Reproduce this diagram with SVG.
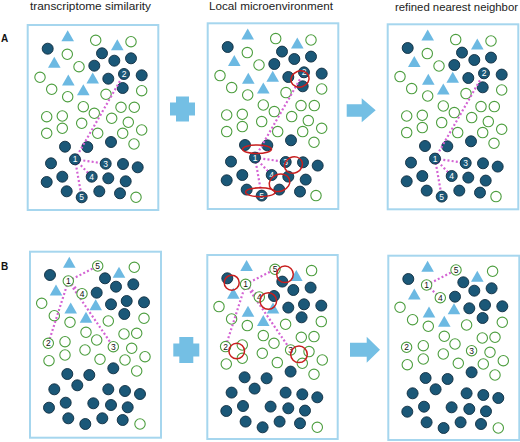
<svg xmlns="http://www.w3.org/2000/svg" width="520" height="442" viewBox="0 0 520 442">
<style>
.box{fill:#fff;stroke:#a6d6ee;stroke-width:2}
.ttl{font-family:"Liberation Sans",Arial,sans-serif;font-size:11px;fill:#222}
.lbl{font-family:"Liberation Sans",Arial,sans-serif;font-size:10px;font-weight:bold;fill:#111}
.dot{fill:none;stroke:#d464d4;stroke-width:2.2;stroke-dasharray:2 2.2}
.nw{font-family:"Liberation Sans",Arial,sans-serif;font-size:8.5px;fill:#fff;text-anchor:middle}
.nb{font-family:"Liberation Sans",Arial,sans-serif;font-size:8.5px;fill:#111;text-anchor:middle}
.red{fill:none;stroke:#c81e1e;stroke-width:1.5}
.sym{fill:#74bfe4}
</style>
<defs>
<path id="tri" d="M0,-6.5 L6.3,4.5 L-6.3,4.5Z" fill="#6cb9e2"/>
<circle id="dk" r="5.5" fill="#1b5878" stroke="#0e2c3f" stroke-width="0.9"/>
<circle id="gr" r="5.2" fill="#fff" stroke="#4d9e3f" stroke-width="1.1"/>
<g id="A-base">
<use href="#tri" x="67.7" y="36.7"/><use href="#tri" x="117.3" y="45.7"/><use href="#tri" x="54.3" y="63.3"/><use href="#tri" x="68.3" y="81"/><use href="#tri" x="92.7" y="79"/><use href="#tri" x="83.3" y="90.7"/>
<use href="#gr" x="95.7" y="40.3"/><use href="#gr" x="131" y="41.7"/><use href="#gr" x="67.3" y="54.3"/><use href="#gr" x="79" y="66.7"/><use href="#gr" x="40" y="77.3"/><use href="#gr" x="51.7" y="89.3"/><use href="#gr" x="67.7" y="96.7"/><use href="#gr" x="106" y="94.3"/><use href="#gr" x="141.7" y="90.7"/><use href="#gr" x="83.3" y="106.7"/><use href="#gr" x="94.3" y="113.3"/><use href="#gr" x="121" y="107.3"/><use href="#gr" x="134.3" y="107.3"/><use href="#gr" x="46.7" y="116.7"/><use href="#gr" x="62.3" y="116"/><use href="#gr" x="81.7" y="123.3"/><use href="#gr" x="111.7" y="118.3"/><use href="#gr" x="128.3" y="122.3"/><use href="#gr" x="46.7" y="133.3"/><use href="#gr" x="62.3" y="128.3"/><use href="#gr" x="97.7" y="133.3"/><use href="#gr" x="122.7" y="133.3"/><use href="#gr" x="141.7" y="130"/><use href="#gr" x="134" y="144"/><use href="#gr" x="136" y="197.3"/>
<use href="#dk" x="47.7" y="48.7"/><use href="#dk" x="102" y="53.3"/><use href="#dk" x="114.3" y="60.7"/><use href="#dk" x="131" y="58.3"/><use href="#dk" x="94.3" y="65.7"/><use href="#dk" x="108.3" y="78.7"/><use href="#dk" x="141.7" y="75.3"/><use href="#dk" x="122.7" y="88"/><use href="#dk" x="65" y="146.7"/><use href="#dk" x="87.3" y="147"/><use href="#dk" x="111" y="142"/><use href="#dk" x="51" y="163.3"/><use href="#dk" x="123" y="164"/><use href="#dk" x="137.7" y="167.3"/><use href="#dk" x="62.3" y="176.7"/><use href="#dk" x="108.3" y="178.3"/><use href="#dk" x="125.7" y="181.3"/><use href="#dk" x="46.7" y="182"/><use href="#dk" x="66.7" y="191.3"/><use href="#dk" x="99.3" y="191.3"/><use href="#dk" x="120" y="193.3"/>
<path class="dot" d="M75,159.3 L124,74 M75,159.3 L105.7,163.7 M75,159.3 L91.7,176.7 M75,159.3 L81.7,197.3"/>
<use href="#dk" x="75" y="159.3"/><text class="nw" x="75" y="162.3">1</text>
<use href="#dk" x="124" y="74"/><text class="nw" x="124" y="77">2</text>
<use href="#dk" x="105.7" y="163.7"/><text class="nw" x="105.7" y="166.7">3</text>
<use href="#dk" x="91.7" y="176.7"/><text class="nw" x="91.7" y="179.7">4</text>
<use href="#dk" x="81.7" y="197.3"/><text class="nw" x="81.7" y="200.3">5</text>
</g>
<g id="B-base">
<use href="#tri" x="69.3" y="263.3"/><use href="#tri" x="119" y="273.3"/><use href="#tri" x="56" y="291"/><use href="#tri" x="70.7" y="309"/><use href="#tri" x="95.7" y="305.7"/><use href="#tri" x="86" y="318.3"/>
<use href="#gr" x="134.3" y="267.3"/><use href="#gr" x="41.7" y="303.3"/><use href="#gr" x="54.3" y="315.7"/><use href="#gr" x="70" y="322.3"/><use href="#gr" x="108.3" y="321"/><use href="#gr" x="144" y="318.3"/><use href="#gr" x="86" y="332.3"/><use href="#gr" x="96.7" y="340"/><use href="#gr" x="124" y="334"/><use href="#gr" x="136.7" y="333.3"/><use href="#gr" x="65" y="341.7"/><use href="#gr" x="85" y="350"/><use href="#gr" x="131.7" y="348.3"/><use href="#gr" x="49" y="360.7"/><use href="#gr" x="65" y="355"/><use href="#gr" x="100" y="359.3"/><use href="#gr" x="125" y="360"/><use href="#gr" x="145" y="356.7"/><use href="#gr" x="136.7" y="371"/><use href="#gr" x="140" y="424"/>
<use href="#dk" x="50" y="275"/><use href="#dk" x="105" y="278.3"/><use href="#dk" x="116" y="286.7"/><use href="#dk" x="133.3" y="284.3"/><use href="#dk" x="96.7" y="292.7"/><use href="#dk" x="111" y="304.3"/><use href="#dk" x="126.7" y="301"/><use href="#dk" x="144" y="302.3"/><use href="#dk" x="124.3" y="314"/><use href="#dk" x="67.3" y="374"/><use href="#dk" x="89.3" y="375"/><use href="#dk" x="113.3" y="368.3"/><use href="#dk" x="77.3" y="385.3"/><use href="#dk" x="54.3" y="389.3"/><use href="#dk" x="108.3" y="389.3"/><use href="#dk" x="125" y="391"/><use href="#dk" x="140" y="394"/><use href="#dk" x="65.7" y="402.7"/><use href="#dk" x="93.3" y="403.3"/><use href="#dk" x="111" y="405"/><use href="#dk" x="127.7" y="407.3"/><use href="#dk" x="49" y="407.7"/><use href="#dk" x="68.3" y="418.3"/><use href="#dk" x="85.3" y="424"/><use href="#dk" x="102.3" y="418.3"/><use href="#dk" x="122.7" y="420"/>
</g>
<g id="B-nums">
<use href="#gr" x="68.3" y="281"/><text class="nb" x="68.3" y="284">1</text>
<use href="#gr" x="48.3" y="343.3"/><text class="nb" x="48.3" y="346.3">2</text>
<use href="#gr" x="113.3" y="346.7"/><text class="nb" x="113.3" y="349.7">3</text>
<use href="#gr" x="82" y="293.7"/><text class="nb" x="82" y="296.7">4</text>
<use href="#gr" x="97.7" y="266"/><text class="nb" x="97.7" y="269">5</text>
</g>
</defs>
<rect width="520" height="442" fill="#fff"/>
<text class="lbl" x="1" y="42">A</text>
<text class="lbl" x="1" y="270">B</text>
<text class="ttl" x="30" y="10" textLength="121" lengthAdjust="spacingAndGlyphs">transcriptome similarity</text>
<text class="ttl" x="209" y="9.5" textLength="124" lengthAdjust="spacingAndGlyphs">Local microenvironment</text>
<text class="ttl" x="395" y="11" textLength="123" lengthAdjust="spacingAndGlyphs">refined nearest neighbor</text>
<g id="panel-A1">
<rect class="box" x="27.7" y="25" width="130.6" height="185"/>
<use href="#A-base"/>
</g>
<g id="panel-A2">
<rect class="box" x="207.7" y="23.3" width="130.6" height="185.7"/>
<use href="#A-base" transform="translate(180,-1.7)"/>
<g id="A2-rings">
<ellipse class="red" cx="300" cy="79" rx="9.2" ry="8" transform="rotate(-20 300 79)"/>
<ellipse class="red" cx="257" cy="149.2" rx="14.5" ry="4.3"/>
<ellipse class="red" cx="293.5" cy="165" rx="9.2" ry="8" transform="rotate(-25 293.5 165)"/>
<ellipse class="red" cx="279.5" cy="182.8" rx="10.5" ry="8.5" transform="rotate(-20 279.5 182.8)"/>
<ellipse class="red" cx="260.3" cy="192.2" rx="14.7" ry="4.5"/>
</g>
</g>
<g id="panel-A3">
<rect class="box" x="387.7" y="24.3" width="130.6" height="185"/>
<use href="#A-base" transform="translate(360,-0.7)"/>
</g>
<g id="panel-B1">
<rect class="box" x="30" y="251.7" width="131" height="186"/>
<use href="#B-base"/>
<path class="dot" d="M68.3,281 L97.7,266 M68.3,281 L82,293.7 M68.3,281 L48.3,343.3 M68.3,281 L113.3,346.7"/>
<use href="#B-nums"/>
</g>
<g id="panel-B2">
<rect class="box" x="207.3" y="255" width="130.4" height="184"/>
<g transform="translate(177.3,3.3)">
<use href="#B-base"/>
<path class="dot" d="M68.3,281 L97.7,266 M68.3,281 L82,293.7 M68.3,281 L48.3,343.3 M68.3,281 L113.3,346.7"/>
<use href="#B-nums"/>
</g>
<g id="B2-rings">
<circle class="red" cx="231.7" cy="282.7" r="7.5"/>
<circle class="red" cx="285" cy="274.3" r="8.3"/>
<circle class="red" cx="268.3" cy="301" r="8.3"/>
<circle class="red" cx="236.7" cy="351" r="7.8"/>
<circle class="red" cx="299" cy="354.3" r="8.3"/>
</g>
</g>
<g id="panel-B3">
<rect class="box" x="388.3" y="255.7" width="131" height="184.3"/>
<g transform="translate(358.3,4)">
<use href="#B-base"/>
<path class="dot" d="M68.3,281 L97.7,266 M68.3,281 L82,293.7"/>
<use href="#B-nums"/>
</g>
</g>
<g id="connectors">
<path class="sym" d="M176,96.5 H189 V102.5 H195 V115.5 H189 V121.5 H176 V115.5 H170 V102.5 H176Z"/>
<path class="sym" d="M346.7,104.3 H361.7 V98.3 L375.7,110.3 L361.7,122.3 V116.7 H346.7Z"/>
<path class="sym" d="M179.3,337 H193.3 V343.5 H199.3 V356.5 H193.3 V363 H179.3 V356.5 H173.3 V343.5 H179.3Z"/>
<path class="sym" d="M350,342.7 H366.7 V336.7 L380,349.7 L366.7,362.7 V356.7 H350Z"/>
</g>
</svg>
